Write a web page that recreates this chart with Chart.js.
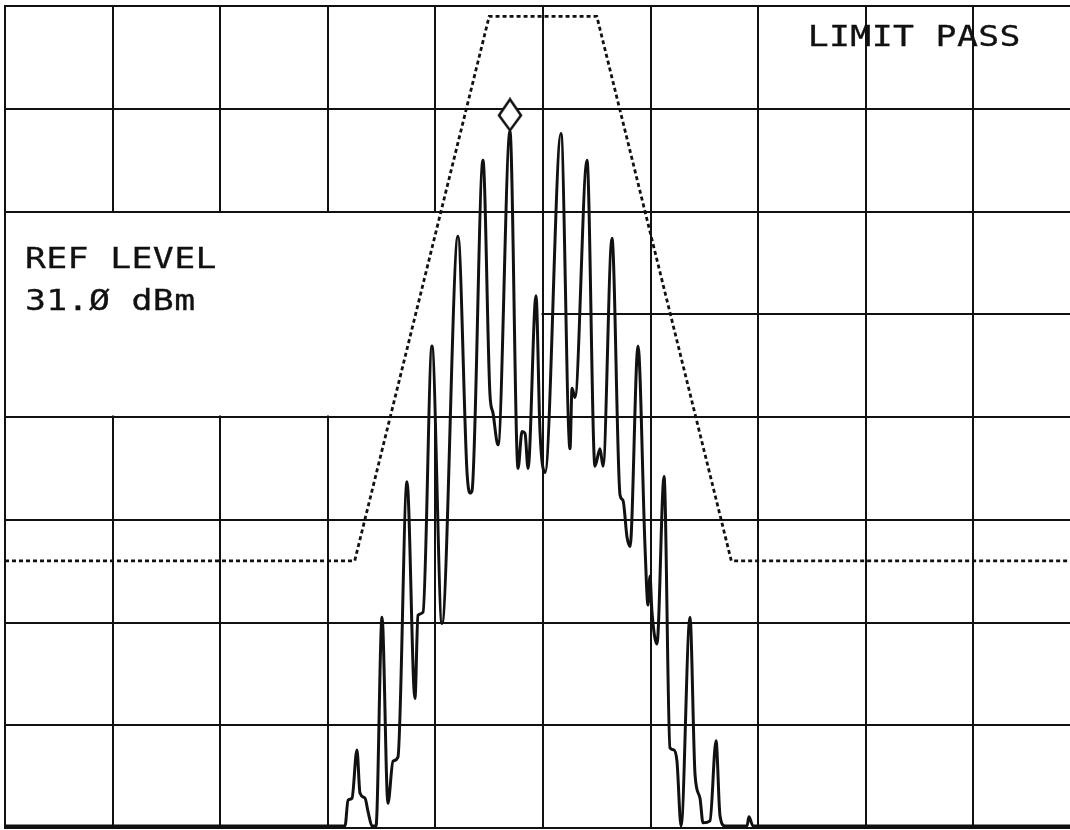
<!DOCTYPE html>
<html lang="en">

<head>
    <meta charset="UTF-8">
    <title>Spectrum Limit Test</title>
    <style>
        html, body { margin: 0; padding: 0; background: #fff; overflow: hidden; }
        #chartBox { position: relative; width: 1090px; height: 830px; }
    </style>
</head>

<body>
    <div id="chartBox">
        <canvas id="specChart"></canvas>
    </div>
</body>

</html>
<script src="https://cdn.jsdelivr.net/npm/chart.js"></script>
<script>
    // x is offset from centre in divisions, y is in dBm (10 dB/div, ref 31 dBm)
    const traceFreq = [-5.0, -1.840, -1.812, -1.775, -1.729, -1.701, -1.654, -1.626, -1.589, -1.552,
        -1.496, -1.441, -1.394, -1.348, -1.264, -1.190, -1.162, -1.115, -1.032, -0.939,
        -0.790, -0.706, -0.678, -0.660, -0.558, -0.493, -0.465, -0.418, -0.307, -0.232,
        -0.195, -0.167, -0.139, -0.065, -0.028, 0.019, 0.167, 0.251, 0.270, 0.297,
        0.409, 0.483, 0.530, 0.558, 0.641, 0.716, 0.743, 0.781, 0.809, 0.883,
        0.948, 0.976, 0.994, 1.013, 1.059, 1.125, 1.180, 1.217, 1.245, 1.283,
        1.366, 1.413, 1.459, 1.487, 1.552, 1.608, 1.645, 1.691, 1.896, 1.914,
        1.952, 5.0];
    const traceDbm = [-48.8, -48.8, -46.3, -46.1, -41.4, -45.6, -46.1, -47.4, -48.8, -48.8,
        -28.5, -46.6, -42.5, -42.1, -15.3, -36.4, -28.3, -28.0, -2.1, -29.1,
        8.6, -14.4, -16.4, -16.2, 16.0, -6.8, -8.6, -11.7, 18.8, -14.0,
        -10.4, -10.6, -14.0, 2.8, -10.4, -14.4, 18.6, -12.1, -6.2, -7.1,
        16.0, -13.8, -12.1, -13.8, 8.4, -16.6, -17.1, -20.7, -21.6, -2.1,
        -21.6, -27.3, -24.5, -28.0, -31.1, -14.8, -41.2, -41.4, -42.5, -48.8,
        -28.5, -43.8, -46.1, -48.5, -48.3, -40.5, -47.8, -48.8, -48.8, -47.9,
        -48.8, -48.8];

    const limitFreq = [-5.0, -1.75, -0.5, 0.5, 1.75, 5.0];
    const limitDbm = [-23, -23, 30, 30, -23, -23];

    const markerFreq = [-0.307];
    const markerDbm = [18.8];

    const refLevelLines = ['REF LEVEL', '31.Ø dBm'];
    const limitStatus = 'LIMIT PASS';

    let specChart;

    // diamond marker sits on top of the peak, so the picture is twice as tall
    function makeDiamond() {
        const c = document.createElement('canvas');
        c.width = 26;
        c.height = 68;
        const g = c.getContext('2d');
        g.beginPath();
        g.moveTo(13, 2);
        g.lineTo(24, 18);
        g.lineTo(13, 33);
        g.lineTo(2, 18);
        g.closePath();
        g.fillStyle = '#fff';
        g.fill();
        g.lineWidth = 2.5;
        g.strokeStyle = '#111';
        g.stroke();
        return c;
    }

    // blank patch behind the ref level readout, grid lines are cut there
    const refBoxPlugin = {
        id: 'refBox',
        beforeDatasetsDraw(chart) {
            const x = chart.scales.x;
            const y = chart.scales.y;
            const ctx = chart.ctx;
            const left = x.getPixelForValue(-5) + 1;
            const right = x.getPixelForValue(0) - 1.5;
            const top = y.getPixelForValue(11) + 1.5;
            const bottom = y.getPixelForValue(-9) - 1.5;
            ctx.save();
            ctx.fillStyle = '#fff';
            ctx.fillRect(left, top, right - left, bottom - top);
            ctx.restore();
        }
    };

    // plotter lettering is wide, so squash the mono font out sideways
    function plotText(ctx, text, px, py) {
        ctx.save();
        ctx.translate(px, py);
        ctx.scale(1.2, 1);
        ctx.fillText(text, 0, 0);
        ctx.strokeText(text, 0, 0);
        ctx.restore();
    }

    const labelPlugin = {
        id: 'labels',
        afterDraw(chart) {
            const x = chart.scales.x;
            const y = chart.scales.y;
            const ctx = chart.ctx;
            ctx.save();
            ctx.fillStyle = '#111';
            ctx.strokeStyle = '#111';
            ctx.lineWidth = 0.3;
            ctx.font = '29px "DejaVu Sans Mono"';
            ctx.letterSpacing = '0.3px';
            ctx.textBaseline = 'alphabetic';
            const lx = x.getPixelForValue(-5) + 20;
            plotText(ctx, refLevelLines[0], lx, y.getPixelForValue(5.5));
            plotText(ctx, refLevelLines[1], lx, y.getPixelForValue(1.4));
            plotText(ctx, limitStatus, x.getPixelForValue(2.46), y.getPixelForValue(27.1));
            ctx.restore();
        }
    };

    function makeChart() {
        const ctx = document.getElementById('specChart');
        specChart = new Chart(ctx, {
            type: 'scatter',
            data: {
                datasets: [{
                    label: 'Marker',
                    data: markerFreq.map((f, i) => ({ x: f, y: markerDbm[i] })),
                    pointStyle: makeDiamond(),
                    pointRadius: 1,
                    showLine: false,
                    order: 0
                }, {
                    label: 'Trace',
                    data: traceFreq.map((f, i) => ({ x: f, y: traceDbm[i] })),
                    showLine: true,
                    borderColor: '#111',
                    borderWidth: 3,
                    pointRadius: 0,
                    cubicInterpolationMode: 'monotone',
                    order: 1
                }, {
                    label: 'Limit',
                    data: limitFreq.map((f, i) => ({ x: f, y: limitDbm[i] })),
                    showLine: true,
                    borderColor: '#111',
                    borderWidth: 2.8,
                    borderDash: [4, 3],
                    pointRadius: 0,
                    order: 2
                }]
            },
            options: {
                responsive: true,
                maintainAspectRatio: false,
                animation: false,
                layout: {
                    autoPadding: false,
                    padding: { left: 5, top: 6, right: 9, bottom: 2 }
                },
                plugins: {
                    legend: { display: false },
                    tooltip: { enabled: false }
                },
                scales: {
                    x: {
                        type: 'linear',
                        min: -5,
                        max: 5,
                        ticks: { stepSize: 1, display: false },
                        grid: { color: '#111', lineWidth: 2, drawTicks: false },
                        border: { color: '#111', width: 2 }
                    },
                    y: {
                        type: 'linear',
                        min: -49,
                        max: 31,
                        ticks: { stepSize: 10, display: false },
                        grid: { color: '#111', lineWidth: 2, drawTicks: false },
                        border: { color: '#111', width: 2 }
                    }
                }
            },
            plugins: [refBoxPlugin, labelPlugin]
        });
    }

    window.onload = makeChart;
</script>
